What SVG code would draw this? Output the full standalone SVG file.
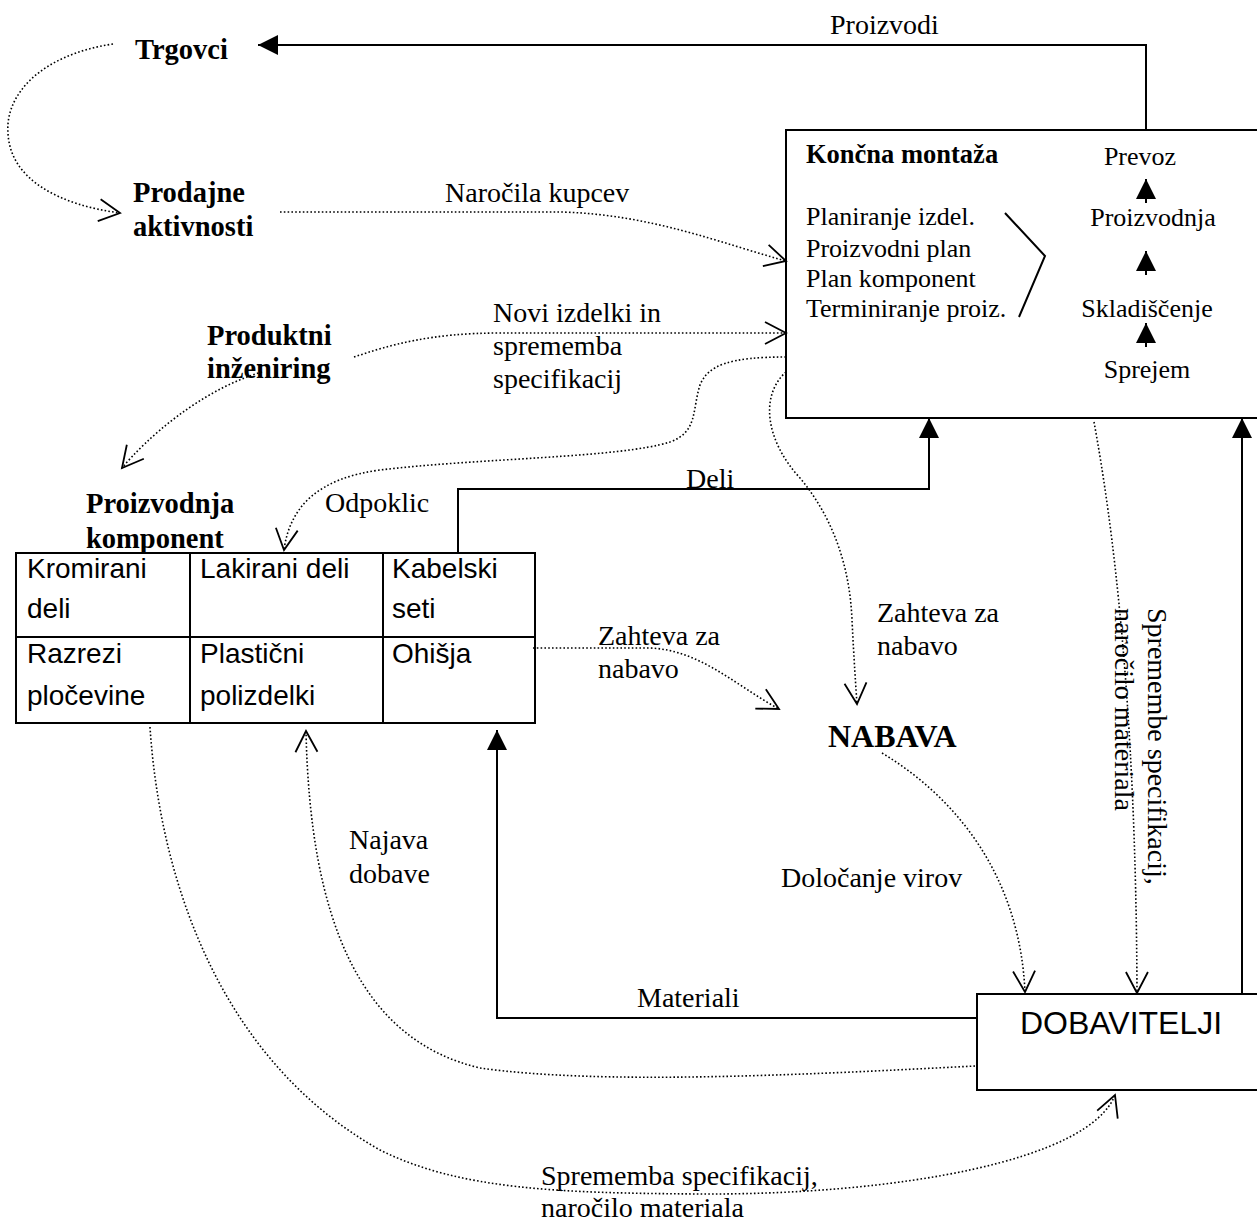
<svg xmlns="http://www.w3.org/2000/svg" width="1257" height="1224" viewBox="0 0 1257 1224">
<defs>
<style>
.s{fill:none;stroke:#000;stroke-width:2}
.d{fill:none;stroke:#000;stroke-width:1.6;stroke-dasharray:1.6 2.2}
.box{fill:#fff;stroke:#000;stroke-width:2}
.t{font-family:"Liberation Serif","Times New Roman",serif;font-size:28px;fill:#000}
.tb{font-family:"Liberation Serif","Times New Roman",serif;font-size:28.5px;font-weight:bold;fill:#000}
.ti{font-family:"Liberation Serif","Times New Roman",serif;font-size:26px;fill:#000}
.a{font-family:"Liberation Sans",Arial,sans-serif;font-size:28px;fill:#000}
</style>
<marker id="fa" markerUnits="userSpaceOnUse" markerWidth="20" markerHeight="20" viewBox="0 0 20 20" refX="20" refY="10" orient="auto"><path d="M0,0 L20,10 L0,20 z" fill="#000"/></marker>
<marker id="oa" markerUnits="userSpaceOnUse" markerWidth="24" markerHeight="24" viewBox="0 0 24 24" refX="22" refY="12" orient="auto" overflow="visible"><path d="M1,1 L22,12 L1,23" fill="none" stroke="#000" stroke-width="1.8" stroke-dasharray="none"/></marker>
</defs>
<rect width="1257" height="1224" fill="#fff"/>

<g id="koncna-montaza">
<rect class="box" x="786" y="130" width="500" height="288"/>
<text class="tb" x="806" y="163" style="font-size:26.5px">Končna montaža</text>
<text class="ti" x="806" y="225">Planiranje izdel.</text>
<text class="ti" x="806" y="257">Proizvodni plan</text>
<text class="ti" x="806" y="287">Plan komponent</text>
<text class="ti" x="806" y="317">Terminiranje proiz.</text>
<path class="s" d="M1005,213 L1045,256 L1019,317" stroke-width="1.8"/>
<text class="ti" x="1140" y="165" text-anchor="middle">Prevoz</text>
<text class="ti" x="1153" y="226" text-anchor="middle">Proizvodnja</text>
<text class="ti" x="1147" y="317" text-anchor="middle">Skladiščenje</text>
<text class="ti" x="1147" y="378" text-anchor="middle">Sprejem</text>
<line class="s" x1="1146" y1="203" x2="1146" y2="179" marker-end="url(#fa)"/>
<line class="s" x1="1146" y1="275" x2="1146" y2="251" marker-end="url(#fa)"/>
<line class="s" x1="1146" y1="347" x2="1146" y2="323" marker-end="url(#fa)"/>
</g>

<g id="trgovci"><text class="tb" x="135" y="59">Trgovci</text></g>
<g id="prodajne-aktivnosti"><text class="tb" x="133" y="202">Prodajne</text><text class="tb" x="133" y="236">aktivnosti</text></g>
<g id="produktni-inzeniring"><text class="tb" x="207" y="345">Produktni</text><text class="tb" x="207" y="378">inženiring</text></g>
<g id="proizvodnja-komponent"><text class="tb" x="86" y="513">Proizvodnja</text><text class="tb" x="86" y="548">komponent</text></g>

<g id="komponente">
<rect class="box" x="16" y="553" width="519" height="170"/>
<line class="s" x1="16" y1="637" x2="535" y2="637"/>
<line class="s" x1="190" y1="553" x2="190" y2="723"/>
<line class="s" x1="383" y1="553" x2="383" y2="723"/>
<text class="a" x="27" y="578">Kromirani</text>
<text class="a" x="27" y="618">deli</text>
<text class="a" x="200" y="578">Lakirani deli</text>
<text class="a" x="392" y="578">Kabelski</text>
<text class="a" x="392" y="618">seti</text>
<text class="a" x="27" y="663">Razrezi</text>
<text class="a" x="27" y="705">pločevine</text>
<text class="a" x="200" y="663">Plastični</text>
<text class="a" x="200" y="705">polizdelki</text>
<text class="a" x="392" y="663">Ohišja</text>
</g>

<g id="nabava"><text class="tb" x="828" y="747" style="font-size:32px">NABAVA</text></g>

<g id="dobavitelji">
<rect class="box" x="977" y="994" width="300" height="96"/>
<text class="a" x="1020" y="1034" style="font-size:32px">DOBAVITELJI</text>
</g>

<g id="connectors">
<path class="s" d="M1146,130 L1146,45 L258,45" marker-end="url(#fa)"/>
<path class="s" d="M458,553 L458,489 L929,489 L929,418" marker-end="url(#fa)"/>
<path class="s" d="M977,1018 L497,1018 L497,730" marker-end="url(#fa)"/>
<path class="s" d="M1242,994 L1242,418" marker-end="url(#fa)"/>

<path class="d" d="M113,44 C40,55 5,95 8,133 C10,180 60,205 120,213" marker-end="url(#oa)"/>
<path class="d" d="M280,212 L560,212 C650,214 720,243 786,261" marker-end="url(#oa)"/>
<path class="d" d="M354,357 C390,345 430,333 500,333 L786,333" marker-end="url(#oa)"/>
<path class="d" d="M262,372 C200,390 145,440 122,468" marker-end="url(#oa)"/>
<path class="d" d="M786,357 C730,357 708,365 700,385 C692,410 698,432 670,442 C620,458 480,458 380,470 C320,478 290,505 284,550" marker-end="url(#oa)"/>
<path class="d" d="M786,372 C760,395 765,440 800,478 C835,520 850,570 852,620 C854,660 856,690 857,704" marker-end="url(#oa)"/>
<path class="d" d="M533,648 L650,648 C700,650 735,685 779,709" marker-end="url(#oa)"/>
<path class="d" d="M882,753 C960,800 1020,880 1025,992" marker-end="url(#oa)"/>
<path class="d" d="M1094,422 C1112,520 1136,700 1137,993" marker-end="url(#oa)"/>
<path class="d" d="M975,1066 C800,1075 600,1085 480,1068 C360,1040 310,920 306,731" marker-end="url(#oa)"/>
<path class="d" d="M150,727 C160,880 220,1060 380,1150 C460,1190 560,1193 700,1194 C900,1195 1090,1160 1115,1095" marker-end="url(#oa)"/>

<text class="t" x="830" y="34">Proizvodi</text>
<text class="t" x="445" y="202">Naročila kupcev</text>
<text class="t" x="493" y="322">Novi izdelki in</text>
<text class="t" x="493" y="355">sprememba</text>
<text class="t" x="493" y="388">specifikacij</text>
<text class="t" x="325" y="512">Odpoklic</text>
<text class="t" x="686" y="488">Deli</text>
<text class="t" x="598" y="645">Zahteva za</text>
<text class="t" x="598" y="678">nabavo</text>
<text class="t" x="877" y="622">Zahteva za</text>
<text class="t" x="877" y="655">nabavo</text>
<text class="t" x="349" y="849">Najava</text>
<text class="t" x="349" y="883">dobave</text>
<text class="t" x="781" y="887">Določanje virov</text>
<text class="t" x="637" y="1007">Materiali</text>
<text class="t" x="541" y="1185">Sprememba specifikacij,</text>
<text class="t" x="541" y="1217">naročilo materiala</text>
<g transform="translate(1148,608) rotate(90)">
<text class="t" x="0" y="0">Spremembe specifikacij,</text>
<text class="t" x="0" y="33">naročilo materiala</text>
</g>
</g>
</svg>
